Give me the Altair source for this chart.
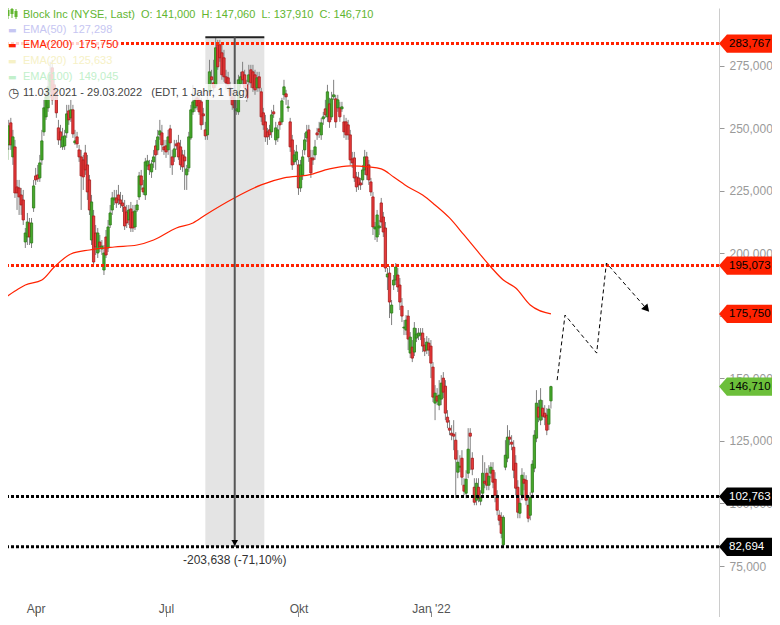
import altair as alt
import pandas as pd

# ---------------- data ----------------
opens = [
    231.3, 237.3, 243.3, 252.1, 238.5, 242.5, 226.5, 226.1, 223.3, 221.3,
    204.5, 206.5, 212.1, 204.1, 218.1, 230.9, 231.3, 230.1, 237.3, 248.5,
    254.5, 258.1, 264.5, 274.1, 267.3, 264.5, 250.1, 248.5, 242.5, 242.9,
    248.1, 256.9, 254.1, 257.3, 244.1, 246.5, 241.3, 238.5, 237.3, 240.1,
    235.3, 229.3, 205.3, 214.9, 208.1, 200.1, 204.5, 201.7, 193.3, 206.5,
    202.1, 211.3, 217.3, 221.3, 222.1, 223.3, 221.3, 220.1, 218.5, 216.5,
    213.3, 217.7, 216.5, 210.5, 217.3, 222.5, 230.9, 226.1, 223.3, 234.9,
    235.3, 232.5, 236.5, 242.9, 241.3, 247.3, 248.1, 242.5, 242.9, 241.3,
    249.7, 238.5, 238.5, 243.7, 244.1, 242.5, 239.3, 238.5, 231.3, 234.1,
    246.1, 256.5, 258.1, 262.1, 261.3, 260.5, 255.7, 249.3, 247.3, 264.5,
    270.5, 268.1, 267.3, 283.3, 283.3, 280.1, 278.1, 270.5, 270.1, 266.1,
    262.5, 261.3, 256.9, 256.5, 267.7, 272.5, 271.3, 267.3, 268.5, 273.3,
    272.5, 271.3, 266.1, 270.5, 264.5, 256.1, 252.5, 248.5, 249.3, 248.5,
    256.5, 245.3, 246.1, 252.5, 252.5, 263.3, 263.7, 258.1, 252.5, 245.3,
    236.5, 237.3, 235.3, 226.1, 231.3, 241.3, 246.1, 249.3, 238.1, 238.1,
    239.3, 248.1, 249.7, 247.3, 253.7, 257.7, 254.5, 259.7, 254.5, 262.5,
    261.7, 258.1, 258.1, 257.7, 252.5, 252.5, 251.3, 247.3, 237.7, 238.1,
    230.5, 230.1, 228.1, 229.3, 233.3, 238.5, 235.3, 228.5, 222.5, 209.7,
    206.5, 210.1, 220.1, 214.5, 210.1, 190.5, 192.1, 176.1, 187.3, 189.3,
    191.3, 187.3, 178.9, 170.1, 169.3, 174.9, 160.1, 162.5, 160.5, 166.1,
    166.9, 167.3, 168.1, 163.3, 161.3, 164.1, 162.9, 154.5, 140.1, 142.9,
    139.3, 141.7, 150.1, 146.9, 134.5, 130.1, 128.1, 127.7, 125.3, 112.5,
    114.5, 118.1, 107.3, 104.1, 112.1, 128.1, 118.1, 106.5, 101.3, 106.5,
    100.9, 104.1, 108.9, 112.1, 107.3, 112.1, 113.3, 109.7, 102.5, 95.3,
    94.5, 83.5, 114.5, 118.1, 126.5, 124.5, 122.5, 116.1, 106.5, 96.1,
    103.3, 109.7, 109.3, 99.3, 95.3, 104.5, 114.1, 126.1, 138.5, 133.3,
    138.1, 136.1, 135.3, 131.7, 141.0,
]
closes = [
    241.3, 242.1, 250.9, 243.3, 246.5, 224.1, 224.1, 222.5, 219.3, 213.3,
    208.1, 212.5, 206.5, 212.1, 226.9, 229.3, 229.7, 236.1, 244.9, 258.1,
    262.5, 266.5, 271.3, 261.3, 263.3, 256.1, 245.3, 245.3, 246.5, 246.9,
    255.7, 253.3, 257.3, 247.7, 244.9, 243.7, 238.5, 230.9, 230.5, 233.3,
    224.5, 217.3, 220.5, 196.5, 202.5, 208.1, 202.5, 202.9, 200.1, 199.3,
    210.5, 216.1, 222.1, 222.1, 220.1, 221.3, 219.7, 218.9, 210.9, 212.1,
    217.3, 210.1, 210.1, 216.9, 219.3, 230.9, 227.3, 224.5, 236.5, 236.9,
    233.3, 235.7, 238.5, 239.3, 246.5, 248.9, 243.3, 241.3, 240.5, 246.5,
    244.1, 235.3, 241.7, 242.9, 238.5, 235.3, 234.5, 236.9, 233.7, 246.5,
    257.3, 260.5, 261.3, 258.9, 256.5, 251.3, 254.9, 246.9, 261.3, 272.5,
    269.3, 266.1, 282.1, 274.5, 278.1, 271.3, 270.5, 268.1, 267.3, 262.9,
    259.3, 258.1, 257.7, 269.3, 270.5, 269.3, 266.1, 262.1, 271.3, 268.1,
    266.1, 265.3, 270.1, 266.1, 254.5, 251.3, 246.5, 246.5, 247.3, 255.3,
    255.7, 250.1, 249.3, 251.3, 260.9, 266.5, 262.5, 258.5, 242.5, 235.3,
    239.3, 240.5, 226.1, 235.3, 238.5, 245.3, 248.5, 238.5, 232.1, 237.3,
    242.5, 247.3, 248.5, 252.1, 254.5, 255.3, 264.5, 252.5, 261.7, 263.3,
    252.5, 261.3, 254.5, 258.5, 248.5, 247.3, 247.3, 237.3, 236.1, 230.1,
    226.5, 227.3, 227.3, 233.3, 238.5, 231.3, 229.3, 224.5, 210.5, 210.5,
    215.3, 210.9, 212.5, 208.5, 194.1, 191.7, 180.5, 179.3, 189.3, 194.5,
    186.5, 180.5, 174.9, 170.5, 173.3, 165.7, 166.5, 158.1, 170.1, 167.7,
    168.1, 168.1, 162.9, 160.9, 164.5, 161.3, 156.1, 142.5, 144.1, 140.9,
    143.3, 148.1, 144.5, 136.1, 132.5, 129.3, 127.3, 126.9, 117.7, 116.5,
    114.9, 110.5, 104.9, 109.7, 121.7, 126.9, 113.7, 100.5, 108.1, 102.1,
    102.5, 112.1, 108.1, 107.3, 110.9, 114.5, 108.5, 103.3, 97.3, 93.3,
    88.1, 94.5, 119.3, 126.5, 125.7, 123.7, 113.3, 106.1, 96.5, 100.1,
    111.3, 108.1, 101.3, 94.1, 102.5, 115.7, 127.3, 140.1, 134.5, 141.3,
    134.9, 134.5, 129.3, 137.7, 146.71,
]
highs = [
    244.5, 245.3, 253.3, 254.1, 249.3, 245.3, 229.3, 229.3, 226.1, 225.3,
    210.1, 216.1, 214.1, 214.1, 229.3, 234.1, 235.3, 239.3, 249.3, 261.3,
    266.1, 269.3, 276.5, 277.3, 269.3, 266.1, 253.3, 251.3, 250.1, 249.3,
    259.3, 259.3, 261.3, 259.3, 249.3, 248.5, 243.3, 241.3, 239.3, 243.3,
    239.3, 231.3, 223.3, 217.3, 211.3, 210.1, 207.3, 205.3, 203.3, 209.3,
    213.3, 219.3, 224.5, 225.3, 225.3, 227.3, 224.5, 223.3, 221.3, 219.3,
    219.3, 220.5, 219.3, 219.3, 221.3, 232.5, 233.3, 229.3, 238.1, 239.3,
    237.3, 237.3, 241.3, 245.3, 249.3, 253.3, 251.3, 245.3, 245.3, 249.3,
    251.3, 241.3, 245.3, 245.3, 247.3, 245.3, 241.3, 241.3, 235.3, 248.5,
    259.3, 267.3, 264.5, 265.3, 263.3, 262.1, 258.1, 252.5, 263.3, 277.3,
    273.3, 277.3, 286.332, 285.3, 285.3, 283.3, 281.3, 273.3, 272.5, 268.5,
    265.3, 263.3, 261.3, 271.3, 272.5, 276.5, 273.3, 269.3, 275.3, 275.3,
    275.3, 273.3, 272.5, 272.5, 266.1, 258.1, 255.3, 250.1, 251.3, 257.3,
    259.3, 252.5, 251.3, 254.1, 262.1, 269.3, 265.3, 261.3, 254.1, 247.3,
    241.3, 243.3, 237.3, 237.3, 241.3, 248.1, 251.3, 251.3, 241.3, 241.3,
    245.3, 250.1, 252.5, 254.1, 256.5, 261.3, 267.3, 262.1, 264.5, 269.3,
    263.3, 263.3, 260.5, 260.5, 255.3, 254.1, 253.3, 249.3, 240.5, 240.5,
    232.5, 232.5, 230.1, 235.3, 241.3, 240.5, 237.3, 230.1, 224.5, 212.5,
    217.3, 213.3, 222.1, 216.5, 212.5, 194.1, 194.9, 181.3, 191.3, 196.1,
    194.1, 190.1, 182.1, 173.3, 175.3, 177.3, 168.5, 165.3, 172.5, 170.1,
    170.1, 170.1, 170.1, 166.1, 166.9, 166.1, 165.3, 156.5, 147.3, 146.1,
    149.3, 151.3, 152.5, 149.3, 137.3, 133.3, 131.3, 133.3, 128.5, 121.3,
    119.3, 121.3, 110.1, 113.3, 130.1, 130.1, 120.5, 110.1, 110.1, 110.1,
    105.3, 119.3, 116.5, 114.1, 115.3, 116.5, 116.5, 112.5, 105.3, 97.3,
    96.5, 95.3, 125.3, 131.3, 129.3, 127.3, 125.3, 119.3, 109.3, 102.1,
    114.1, 112.5, 111.3, 102.1, 104.5, 117.3, 129.3, 145.3, 141.3, 146.1,
    141.3, 139.3, 138.1, 139.3, 147.06,
]
lows = [
    228.5, 235.3, 241.3, 241.3, 235.3, 222.1, 217.3, 215.3, 215.3, 211.3,
    202.1, 203.3, 203.3, 202.1, 216.5, 227.3, 228.5, 228.5, 235.3, 246.9,
    253.3, 256.5, 262.1, 259.3, 261.3, 254.1, 243.3, 242.1, 241.3, 241.3,
    246.1, 251.3, 252.5, 246.1, 243.3, 242.1, 236.5, 217.3, 225.3, 231.3,
    221.3, 215.3, 203.3, 195.3, 199.3, 198.1, 200.5, 199.3, 191.3, 198.1,
    200.5, 210.1, 215.3, 219.3, 218.1, 219.3, 218.1, 216.5, 209.3, 210.1,
    211.3, 208.5, 208.5, 209.3, 216.5, 221.3, 225.3, 223.3, 221.3, 233.3,
    231.3, 230.1, 234.1, 233.3, 239.3, 245.3, 240.5, 239.3, 238.1, 239.3,
    234.1, 231.3, 236.5, 241.3, 237.3, 233.3, 232.5, 225.3, 225.3, 232.5,
    245.3, 255.3, 256.5, 257.3, 255.3, 249.3, 251.3, 245.3, 245.3, 263.3,
    267.3, 264.5, 266.1, 273.3, 276.5, 269.3, 268.5, 265.3, 264.5, 261.3,
    257.3, 256.5, 255.3, 255.3, 266.1, 267.3, 264.5, 260.5, 267.3, 266.1,
    264.5, 263.3, 264.5, 264.5, 252.5, 249.3, 244.5, 243.3, 245.3, 246.1,
    254.1, 243.3, 244.5, 249.3, 251.3, 261.3, 259.3, 256.5, 240.5, 233.3,
    235.3, 235.3, 223.3, 224.5, 229.3, 239.3, 244.5, 236.5, 230.1, 235.3,
    237.3, 245.3, 246.1, 245.3, 251.3, 254.1, 252.5, 250.1, 253.3, 261.3,
    250.1, 256.5, 252.5, 256.5, 246.1, 245.3, 245.3, 235.3, 234.1, 228.5,
    224.5, 225.3, 225.3, 227.3, 231.3, 229.3, 227.3, 222.9, 207.3, 205.3,
    204.5, 207.3, 210.1, 206.5, 192.5, 185.3, 174.1, 171.3, 185.3, 187.3,
    184.5, 177.3, 172.5, 167.3, 167.3, 161.3, 158.1, 156.5, 158.9, 164.5,
    165.3, 165.3, 160.5, 158.9, 159.7, 158.9, 150.1, 140.5, 133.3, 139.3,
    137.3, 139.3, 142.1, 133.3, 130.1, 127.3, 125.3, 121.3, 102.1, 110.1,
    112.5, 107.3, 103.3, 102.1, 110.1, 113.3, 111.3, 99.3, 99.3, 100.5,
    99.3, 102.1, 106.1, 105.3, 105.3, 110.1, 106.1, 100.5, 95.3, 91.3,
    86.1, 82.694, 113.3, 116.5, 123.3, 121.3, 110.1, 103.3, 94.1, 94.1,
    101.3, 105.3, 99.3, 92.5, 93.3, 102.1, 112.5, 124.5, 132.5, 131.3,
    133.3, 131.3, 127.3, 129.3, 137.91,
]

ema200_idx = [0, 5, 10, 18, 24, 32, 41, 53, 64, 72, 83, 91, 97, 111, 124, 135, 147,
              157, 167, 176, 182, 188, 195, 202, 208, 215, 222, 228, 235, 241, 247, 254, 264]
ema200_val = [182.1, 184.9, 187.3, 189.3, 194.5, 199.7, 201.3, 202.5, 203.3, 205.3, 210.1,
              212.1, 215.3, 222.1, 227.3, 230.1, 231.3, 233.7, 234.9, 234.5, 233.7, 230.5,
              226.5, 223.3, 219.3, 214.1, 207.3, 201.3, 194.5, 189.3, 186.1, 179.3, 175.75]

level_prices = [283.767, 195.073, 102.763, 82.694]
level_colors = ["#ff2200", "#ff2200", "#000000", "#000000"]

tag_prices = [283.767, 195.073, 175.750, 146.710, 102.763, 82.694]
tag_fills = ["#ff2200", "#ff2200", "#ff2200", "#6cbf3a", "#000000", "#000000"]
tag_text_colors = ["#000000", "#000000", "#000000", "#000000", "#ffffff", "#ffffff"]

forecast_idx = [267.0, 270.8, 286.1, 290.8, 309.9]
forecast_val = [149.3, 175.3, 160.1, 196.1, 178.1]

measure_from_idx = 97
measure_to_idx = 125.5
measure_mid_idx = 111.2
measure_high = 286.332
measure_low = 82.694
measure_label = "-203,638 (-71,10%)"

month_idx = [15, 78, 142, 206]
month_labels = ["Apr", "Jul", "Okt", "Jan '22"]
y_ticks = [75, 100, 125, 150, 175, 200, 225, 250, 275, 300]

ema_names = ["EMA(50)", "EMA(200)", "EMA(20)", "EMA(100)"]
ema_last = [127.298, 175.750, 125.633, 149.045]
ema_colors = ["#c6c6f2", "#ff2200", "#f6f1c6", "#c2f0cb"]

title_name = "Block Inc (NYSE, Last)"
period_text = "11.03.2021 - 29.03.2022\u00a0\u00a0\u00a0(EDT, 1 Jahr, 1 Tag)"

# ---------------- helpers ----------------
FONT = "Liberation Sans"
SP = "\u00a0\u00a0"


def de(v):
    return f"{v:.3f}".replace(".", ",")


n = len(closes)
candles = pd.DataFrame({"idx": list(range(n)), "o": opens, "h": highs, "l": lows, "c": closes})

PLOT_W, PLOT_H, RIGHT = 711, 609, 53
xs = alt.Scale(domain=[4.05, 342.8], nice=False, zero=False)
ys = alt.Scale(domain=[54.64, 298.0], nice=False, zero=False)

x_label_expr = " : ".join(f'datum.value == {i} ? "{lab}"' for i, lab in zip(month_idx, month_labels)) + ' : ""'

x_axis = alt.Axis(values=month_idx, labelExpr=x_label_expr, grid=False, domain=False,
                  tickSize=6, tickColor="#888888", offset=-6, labelPadding=-14,
                  labelColor="#555555", labelFontSize=12, labelFont=FONT, title="")
y_axis = alt.Axis(orient="right", values=y_ticks,
                  labelExpr="replace(format(datum.value, '.3f'), '.', ',')",
                  grid=False, domainColor="#cccccc", tickColor="#999999", tickSize=5,
                  labelColor="#9a9a9a", labelFontSize=12, labelFont=FONT, labelPadding=5,
                  title="")


def X(field):
    return alt.X(field, scale=xs, axis=x_axis)


def Y(field):
    return alt.Y(field, scale=ys, axis=y_axis)


layers = []

# measurement shading
meas = pd.DataFrame({"x0": [measure_from_idx], "x1": [measure_to_idx], "xm": [measure_mid_idx],
                     "lo": [measure_low], "hi": [measure_high], "lab": [measure_label]})
layers.append(alt.Chart(meas).mark_rect(color="#e4e4e4").encode(
    x=X("x0:Q"), x2="x1:Q", y=Y("lo:Q"), y2="hi:Q"))

# wicks
layers.append(alt.Chart(candles).mark_rule(color="#808080", strokeWidth=1).encode(
    x=X("idx:Q"), y=Y("l:Q"), y2="h:Q"))

# bodies
up = "datum.c >= datum.o"
layers.append(alt.Chart(candles).mark_bar(width=2.3, strokeWidth=0.8).encode(
    x=X("idx:Q"), y=Y("o:Q"), y2="c:Q",
    fill=alt.condition(up, alt.value("#46aa2b"), alt.value("#e8393a")),
    stroke=alt.condition(up, alt.value("#2c7a18"), alt.value("#a51b1b"))))

# EMA 200
ema_df = pd.DataFrame({"i": ema200_idx, "v": ema200_val})
layers.append(alt.Chart(ema_df).mark_line(color="#ff2200", strokeWidth=1.2, interpolate="monotone").encode(
    x=X("i:Q"), y=Y("v:Q")))

# dotted levels
lev = pd.DataFrame({"p": level_prices, "col": level_colors})
layers.append(alt.Chart(lev).mark_rule(strokeWidth=3, strokeDash=[3, 2]).encode(
    y=Y("p:Q"), color=alt.Color("col:N", scale=None)))

# measurement lines / arrow / label
layers.append(alt.Chart(meas).mark_rule(color="#222222", strokeWidth=2).encode(
    x=X("x0:Q"), x2="x1:Q", y=Y("hi:Q")))
layers.append(alt.Chart(meas).mark_rule(color="#555555", strokeWidth=2).encode(
    x=X("xm:Q"), y=Y("lo:Q"), y2="hi:Q"))
layers.append(alt.Chart(meas).mark_point(shape="triangle-down", filled=True, color="#000000",
                                         opacity=1, size=45, yOffset=-4).encode(
    x=X("xm:Q"), y=Y("lo:Q")))
layers.append(alt.Chart(meas).mark_text(dy=13, fontSize=12, font=FONT, color="#333333").encode(
    x=X("xm:Q"), y=Y("lo:Q"), text="lab:N"))

# forecast path
fc = pd.DataFrame({"i": forecast_idx, "v": forecast_val, "k": list(range(len(forecast_idx)))})
layers.append(alt.Chart(fc).mark_line(color="#000000", strokeWidth=1, strokeDash=[4, 3]).encode(
    x=X("i:Q"), y=Y("v:Q"), order="k:Q"))
layers.append(alt.Chart(fc.tail(1)).mark_point(shape="triangle", filled=True, color="#000000",
                                               opacity=1, size=70, angle=138).encode(
    x=X("i:Q"), y=Y("v:Q")))

# price tags on the right
tags = pd.DataFrame({"p": tag_prices, "fill": tag_fills, "tc": tag_text_colors,
                     "lab": [de(v) for v in tag_prices]})
tag_shape = "M -1 0 L -0.74 -0.3 L 1 -0.3 L 1 0.3 L -0.74 0.3 Z"
layers.append(alt.Chart(tags).mark_point(shape=tag_shape, size=3721, filled=True, opacity=1,
                                         strokeWidth=0).encode(
    x=alt.value(PLOT_W + 30.5), y=Y("p:Q"),
    fill=alt.Fill("fill:N", scale=None)))
layers.append(alt.Chart(tags).mark_text(align="left", baseline="middle", fontSize=11.5, font=FONT).encode(
    x=alt.value(PLOT_W + 10), y=Y("p:Q"), text="lab:N",
    color=alt.Color("tc:N", scale=None)))

# legend (top left)
one = pd.DataFrame({"a": [0]})
layers.append(alt.Chart(one).mark_rect(color="#ffffff", opacity=0.8).encode(
    x=alt.value(0), x2=alt.value(112), y=alt.value(13), y2=alt.value(76)))
layers.append(alt.Chart(one).mark_rect(color="#ffffff", opacity=0.8).encode(
    x=alt.value(0), x2=alt.value(239), y=alt.value(76), y2=alt.value(92)))

green_txt = "#62b530"
for px, top, bot, b0, b1 in [(0, 0, 11, 2, 8), (4, -1, 10, 1, 6), (8, 1, 11, 3, 9)]:
    layers.append(alt.Chart(one).mark_rule(color=green_txt, strokeWidth=1).encode(
        x=alt.value(px), y=alt.value(top), y2=alt.value(bot)))
    layers.append(alt.Chart(one).mark_rect(color=green_txt).encode(
        x=alt.value(px - 1.5), x2=alt.value(px + 1.5), y=alt.value(b0), y2=alt.value(b1)))

header = (f"{title_name}{SP}O: {de(opens[-1])}{SP}H: {de(highs[-1])}"
          f"{SP}L: {de(lows[-1])}{SP}C: {de(closes[-1])}")
layers.append(alt.Chart(pd.DataFrame({"t": [header]})).mark_text(
    align="left", baseline="middle", fontSize=11, font=FONT, color=green_txt).encode(
    x=alt.value(15), y=alt.value(6.5), text="t:N"))

for k, (nm, val, col) in enumerate(zip(ema_names, ema_last, ema_colors)):
    yy = 21.5 + 15.8 * k
    layers.append(alt.Chart(pd.DataFrame({"t": ["\u25ac"]})).mark_text(
        align="left", baseline="middle", fontSize=9, font="DejaVu Sans", color=col).encode(
        x=alt.value(0), y=alt.value(yy), text="t:N"))
    layers.append(alt.Chart(pd.DataFrame({"t": [f"{nm}{SP}{de(val)}"]})).mark_text(
        align="left", baseline="middle", fontSize=11, font=FONT, color=col).encode(
        x=alt.value(15), y=alt.value(yy), text="t:N"))

layers.append(alt.Chart(pd.DataFrame({"t": ["\u25f7"]})).mark_text(
    align="left", baseline="middle", fontSize=13, font="DejaVu Sans", color="#444444").encode(
    x=alt.value(0), y=alt.value(84.5), text="t:N"))
layers.append(alt.Chart(pd.DataFrame({"t": [period_text]})).mark_text(
    align="left", baseline="middle", fontSize=11, font=FONT, color="#444444").encode(
    x=alt.value(15), y=alt.value(84.5), text="t:N"))

chart = alt.layer(*layers).properties(
    width=PLOT_W, height=PLOT_H,
    autosize=alt.AutoSizeParams(type="none"),
    padding={"left": 0, "top": 0, "right": RIGHT, "bottom": 0},
).configure_view(strokeWidth=0)

chart.save("out.html", embed_options={"renderer": "svg", "actions": False})
